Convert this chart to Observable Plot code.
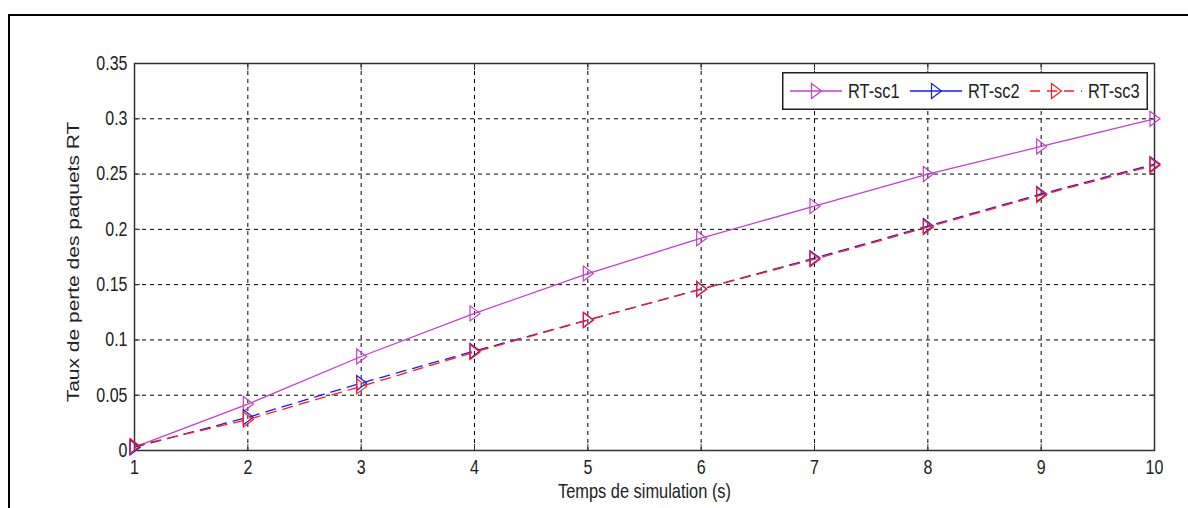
<!DOCTYPE html>
<html>
<head>
<meta charset="utf-8">
<script src="https://cdn.jsdelivr.net/npm/d3@7"></script>
<script src="https://cdn.jsdelivr.net/npm/@observablehq/plot@0.6"></script>
<style>
  html, body { margin: 0; padding: 0; background: #fff; overflow: hidden; }
  #wrap { position: relative; width: 1188px; height: 508px; }
  #frame { position: absolute; left: 8px; top: 14px; width: 1200px; height: 520px; border-left: 2px solid #000; border-top: 2px solid #000; box-sizing: border-box; pointer-events: none; }
  #chart { position: absolute; left: 0; top: 0; }
  #legend { position: absolute; left: 782px; top: 72px; }
</style>
</head>
<body>
<div id="wrap">
  <div id="chart"></div>
  <div id="frame"></div>
  <div id="legend"></div>
</div>
<script>
const times = [1, 2, 3, 4, 5, 6, 7, 8, 9, 10];
const rtSc1 = [0.003, 0.042, 0.085, 0.124, 0.160, 0.192, 0.221, 0.250, 0.275, 0.300];
const rtSc2 = [0.003, 0.030, 0.061, 0.090, 0.118, 0.146, 0.174, 0.203, 0.232, 0.259];
const rtSc3 = [0.004, 0.028, 0.058, 0.089, 0.118, 0.146, 0.173, 0.202, 0.231, 0.258];
const seriesNames = ["RT-sc1", "RT-sc2", "RT-sc3"];
const seriesColors = ["#c33fcc", "#1a1aff", "#ff1a1a"];
const seriesDash = [null, "10,7", "10,7"];
const yTicks = [0, 0.05, 0.1, 0.15, 0.2, 0.25, 0.3, 0.35];
const yTickLabels = ["0", "0.05", "0.1", "0.15", "0.2", "0.25", "0.3", "0.35"];
const xTicks = [1, 2, 3, 4, 5, 6, 7, 8, 9, 10];
const xLabel = "Temps de simulation (s)";
const yLabel = "Taux de perte des paquets RT";

const allSeries = [rtSc1, rtSc2, rtSc3];
const rows = [];
allSeries.forEach((vals, si) => {
  vals.forEach((v, i) => rows.push({series: seriesNames[si], t: times[i], v}));
});

const font = "'Liberation Sans', Arial, sans-serif";
const squish = 0.8; // the reference text is horizontally condensed

// right-pointing, slightly narrow triangle (MATLAB '>' marker)
const rightTriangle = {
  draw(ctx) {
    ctx.moveTo(-4.5, -7.5);
    ctx.lineTo(5.5, 0);
    ctx.lineTo(-4.5, 7.5);
    ctx.closePath();
  }
};

const lineMarks = [];
seriesNames.forEach((name, si) => {
  const d = rows.filter(r => r.series === name);
  lineMarks.push(Plot.line(d, {x: "t", y: "v", stroke: seriesColors[si], strokeWidth: 1.3, strokeDasharray: seriesDash[si] || undefined}));
  lineMarks.push(Plot.dot(d, {x: "t", y: "v", stroke: seriesColors[si], symbol: rightTriangle, r: 6, strokeWidth: 1.2, fill: "none"}));
});

const blank = () => "";

const chart = Plot.plot({
  width: 1188,
  height: 508,
  marginLeft: 134,
  marginRight: 34,
  marginTop: 63,
  marginBottom: 58,
  style: {fontFamily: font, fontSize: "20px", color: "#222", background: "transparent"},
  x: {domain: [1, 10], ticks: xTicks, tickFormat: d => String(d)},
  y: {domain: [0, 0.35], ticks: yTicks, tickFormat: (d, i) => yTickLabels[i]},
  marks: [
    Plot.gridX(xTicks, {stroke: "#000", strokeOpacity: 1, strokeDasharray: "4,4", strokeWidth: 1}),
    Plot.gridY(yTicks, {stroke: "#000", strokeOpacity: 1, strokeDasharray: "4,4", strokeWidth: 1}),
    Plot.frame({stroke: "#333", strokeWidth: 1.5}),
    Plot.axisX({ticks: xTicks, tickSize: -6, tickPadding: 15, tickFormat: d => String(d), label: null, stroke: "#333"}),
    Plot.axisX({anchor: "top", ticks: xTicks, tickSize: -6, tickFormat: blank, label: null, stroke: "#333"}),
    Plot.axisY({ticks: yTicks, tickSize: -6, tickPadding: 13, tickFormat: (d, i) => yTickLabels[i], label: null, stroke: "#333"}),
    Plot.axisY({anchor: "right", ticks: yTicks, tickSize: -6, tickFormat: blank, label: null, stroke: "#333"}),
    Plot.text([xLabel], {frameAnchor: "bottom", dy: 47, text: d => d, fontFamily: font, fontSize: 20.5, fill: "#222"}),
    Plot.text([yLabel], {frameAnchor: "left", textAnchor: "middle", dx: -60.5, dy: 5, rotate: -90, text: d => d, fontFamily: font, fontSize: 21, fill: "#222"}),
    ...lineMarks
  ]
});
document.getElementById("chart").appendChild(chart);

// condense all text horizontally around its anchor point
d3.select(chart).selectAll("text").each(function () {
  const t = this;
  let tr = t.getAttribute("transform") || "";
  const xAttr = t.getAttribute("x");
  if (xAttr !== null && xAttr !== "" && !isNaN(+xAttr)) {
    tr = `${tr} translate(${+xAttr},0)`;
    t.setAttribute("x", 0);
  }
  tr += /rotate/.test(tr) ? ` scale(1,${squish})` : ` scale(${squish},1)`;
  t.setAttribute("transform", tr.trim());
});

// Legend
const lw = 366, lh = 38;
const leg = d3.select("#legend").append("svg").attr("width", lw).attr("height", lh);
leg.append("rect").attr("x", 0.75).attr("y", 0.75).attr("width", lw - 1.5).attr("height", lh - 1.5)
  .attr("fill", "#fff").attr("stroke", "#222").attr("stroke-width", 1.5);
const entryX = [8, 128, 248];
seriesNames.forEach((name, i) => {
  const g = leg.append("g").attr("transform", `translate(${entryX[i]},${lh / 2})`);
  g.append("line").attr("x1", 0).attr("x2", 52).attr("y1", 0).attr("y2", 0)
    .attr("stroke", seriesColors[i]).attr("stroke-width", 1.3)
    .attr("stroke-dasharray", i === 2 ? "10,7" : null);
  g.append("path").attr("d", "M-4.5,-7.5L5.5,0L-4.5,7.5Z").attr("transform", `translate(26,0)`)
    .attr("fill", "none").attr("stroke", seriesColors[i]).attr("stroke-width", 1.2);
  g.append("text").attr("transform", `translate(58,0) scale(${squish},1)`).attr("dy", "0.35em")
    .attr("font-family", font).attr("font-size", 20.5).attr("fill", "#222").text(name);
});
</script>
</body>
</html>
